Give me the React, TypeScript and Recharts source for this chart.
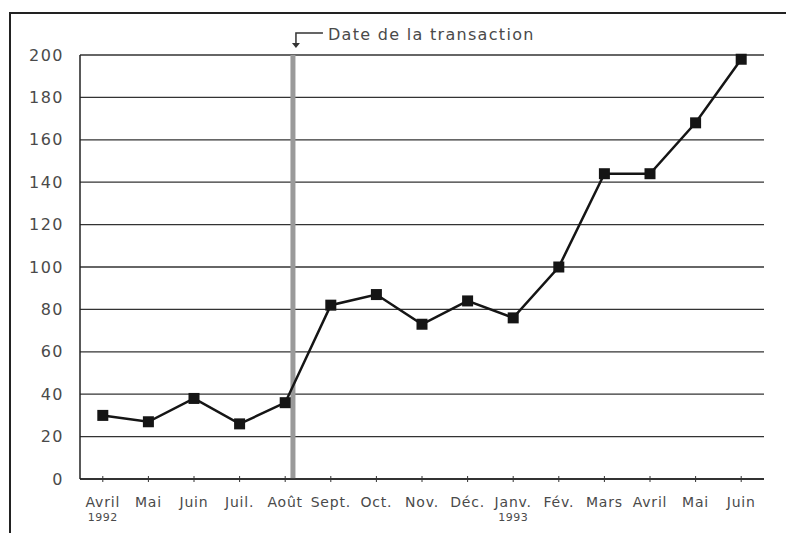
import React from 'react';
import { LineChart, Line, XAxis, YAxis, CartesianGrid, ReferenceLine } from 'recharts';

// Month labels, with year shown under first month of each year
const months = ['Avril', 'Mai', 'Juin', 'Juil.', 'Août', 'Sept.', 'Oct.', 'Nov.', 'Déc.', 'Janv.', 'Fév.', 'Mars', 'Avril', 'Mai', 'Juin'];
const years = ['1992', '', '', '', '', '', '', '', '', '1993', '', '', '', '', ''];
const prices = [30, 27, 38, 26, 36, 82, 87, 73, 84, 76, 100, 144, 144, 168, 198];
const yTicks = [0, 20, 40, 60, 80, 100, 120, 140, 160, 180, 200];
const transactionAt = 4.17; // just after Août
const transactionLabel = 'Date de la transaction';

const data = prices.map((v, i) => ({ idx: i, value: v }));
const xTicks = months.map((_, i) => i);

const FONT = '"DejaVu Sans", sans-serif';
const TEXT = '#4a4a4a';

const MonthTick = (props: any) => {
  const { x, y, payload } = props;
  const i = payload.value;
  return (
    <g>
      <line x1={x} x2={x} y1={y - 3} y2={y + 3} stroke="#333" strokeWidth={1} />
      <text x={x} y={y + 28} textAnchor="middle" fontSize={14} fontFamily={FONT} fill={TEXT} letterSpacing={0.8}>
        {months[i]}
      </text>
      {years[i] && (
        <text x={x} y={y + 42} textAnchor="middle" fontSize={11} fontFamily={FONT} fill={TEXT} letterSpacing={0.5}>
          {years[i]}
        </text>
      )}
    </g>
  );
};

const SquareDot = (props: any) => {
  const { cx, cy, index } = props;
  return <rect key={index} x={cx - 5.5} y={cy - 5.5} width={11} height={11} fill="#151515" />;
};

const TransactionLabel = (props: any) => {
  const { viewBox } = props;
  const x = viewBox.x;
  const top = viewBox.y;
  return (
    <g>
      <polyline points={`${x + 30},${top - 22} ${x + 3},${top - 22} ${x + 3},${top - 10}`} fill="none" stroke="#333" strokeWidth={1.5} />
      <polygon points={`${x - 1},${top - 12} ${x + 7},${top - 12} ${x + 3},${top - 7}`} fill="#333" />
      <text x={x + 35} y={top - 15} fontSize={16} fontFamily={FONT} fill={TEXT} letterSpacing={1.3}>
        {transactionLabel}
      </text>
    </g>
  );
};

export default function App() {
  return (
    <div style={{ position: 'absolute', left: 0, top: 0, width: 786, height: 533, background: '#fff', overflow: 'hidden' }}>
      <div style={{ position: 'absolute', left: 9, top: 12, width: 800, height: 540, border: '2px solid #222', boxSizing: 'border-box' }} />
      <LineChart width={786} height={533} data={data} margin={{ top: 55, right: 22, bottom: 24, left: 0 }} style={{ position: 'absolute', left: 0, top: 0 }}>
        <CartesianGrid vertical={false} stroke="#333" strokeWidth={1.3} />
        <XAxis
          dataKey="idx"
          type="number"
          domain={[-0.5, 14.5]}
          ticks={xTicks}
          interval={0}
          height={30}
          tick={<MonthTick />}
          tickLine={false}
          tickSize={0}
          tickMargin={0}
          axisLine={{ stroke: '#222', strokeWidth: 1.5 }}
        />
        <YAxis
          width={80}
          domain={[0, 200]}
          ticks={yTicks}
          interval={0}
          tickLine={false}
          tickMargin={10}
          axisLine={{ stroke: '#222', strokeWidth: 1.5 }}
          tick={{ fontSize: 16, fontFamily: FONT, fill: TEXT, letterSpacing: 1.5 }}
        />
        <ReferenceLine x={transactionAt} stroke="#9a9a9a" strokeWidth={5} label={<TransactionLabel />} />
        <Line
          type="linear"
          dataKey="value"
          stroke="#151515"
          strokeWidth={2.5}
          dot={<SquareDot />}
          activeDot={false}
          isAnimationActive={false}
        />
      </LineChart>
    </div>
  );
}
